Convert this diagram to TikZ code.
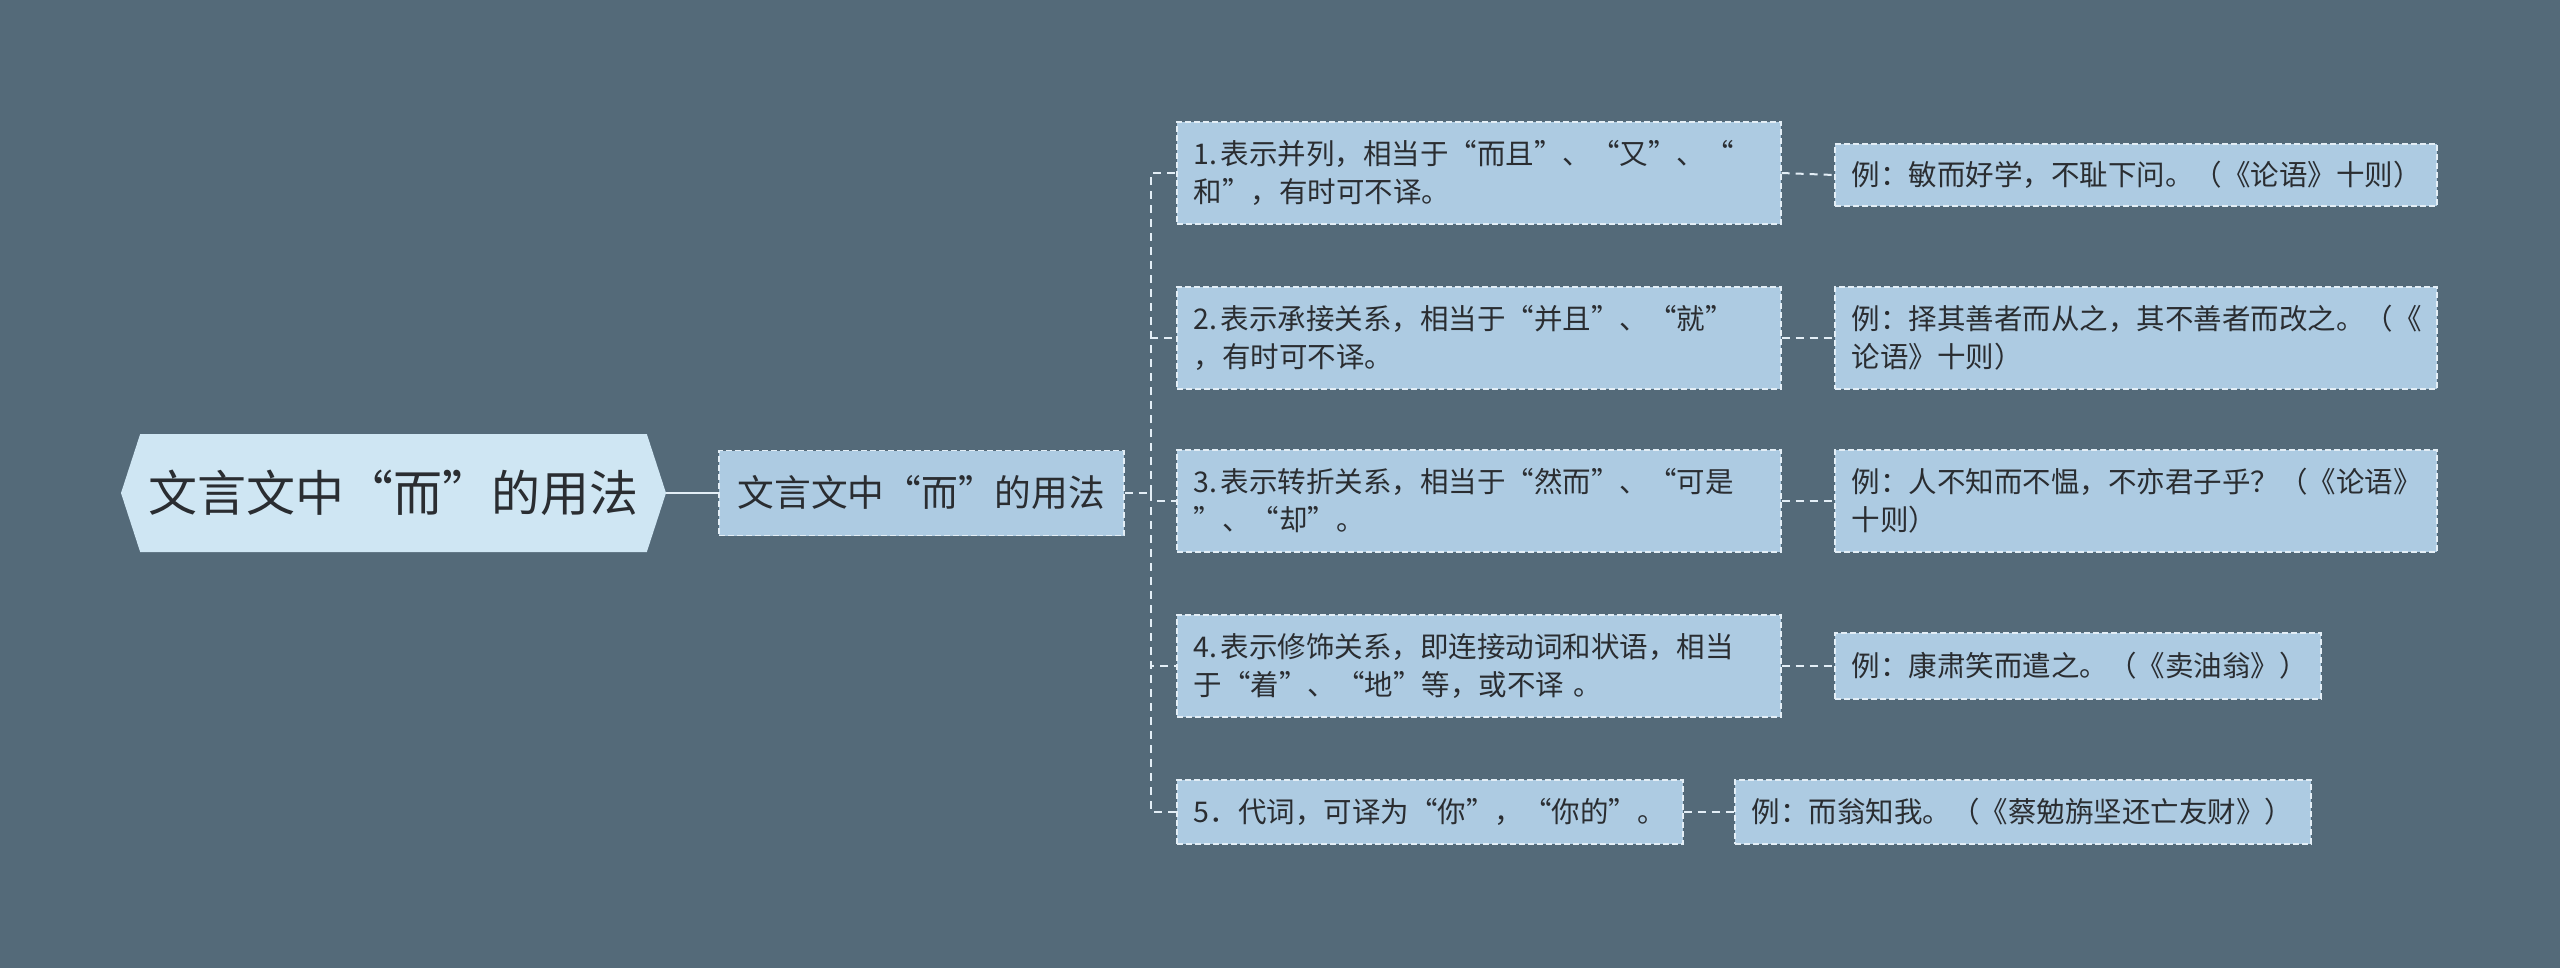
\documentclass[tikz,border=0pt]{standalone}
\usepackage{fontspec}
\setmainfont{Noto Sans CJK SC}
\usetikzlibrary{shapes.symbols}
\definecolor{bgslate}{HTML}{546A79}
\definecolor{boxblue}{HTML}{ADCBE2}
\definecolor{rootblue}{HTML}{CFE6F3}
\definecolor{dashline}{HTML}{E3EEF6}
\definecolor{inkgray}{HTML}{2A2D31}

\begin{document}
\begin{tikzpicture}[x=1pt, y=-1pt,
    topic/.style={draw=dashline, line width=1.6pt, dash pattern=on 6pt off 3pt,
      fill=boxblue, text=inkgray, align=left, inner xsep=17pt, inner ysep=0pt,
      anchor=west, font=\fontsize{28.5pt}{38pt}\selectfont},
    link/.style={draw=dashline, line width=2pt, dash pattern=on 8pt off 6pt}]
    % Background
    \fill[bgslate] (0,0) rectangle (2560,968);
    % Root and first level
    \node[shape=signal, signal to=west and east, signal pointer angle=144,
      minimum width=545pt, minimum height=118pt, inner sep=0pt, fill=rootblue,
      text=inkgray, font=\fontsize{49pt}{56pt}\selectfont] (root) at (393.5,493) {文言文中“而”的用法};
    \node[topic, align=center, minimum width=405pt, minimum height=85pt, inner xsep=0pt,
      font=\fontsize{36.7pt}{44pt}\selectfont] (usage) at (718,493) {文言文中“而”的用法};
    \draw[dashline, line width=2pt] (root.east) -- (usage.west);
    % Meanings
    \node[topic, text width=570pt, minimum height=102pt] (m1) at (1176,173)
      {1.\hspace{0.12em}表示并列，相当于“而且”、“又”、“\\和”，有时可不译。};
    \node[topic, text width=570pt, minimum height=102pt] (m2) at (1176,338)
      {2.\hspace{0.12em}表示承接关系，相当于“并且”、“就”\\，有时可不译。};
    \node[topic, text width=570pt, minimum height=102pt] (m3) at (1176,501)
      {3.\hspace{0.12em}表示转折关系，相当于“然而”、“可是\\”、“却”。};
    \node[topic, text width=570pt, minimum height=102pt] (m4) at (1176,666)
      {4.\hspace{0.12em}表示修饰关系，即连接动词和状语，相当\\于“着”、“地”等，或不译 。};
    \node[topic, text width=472pt, minimum height=64pt] (m5) at (1176,812)
      {5．代词，可译为“你”，“你的”。};
    % Examples
    \node[topic, text width=568pt, minimum height=62pt] (x1) at (1834,175)
      {例：敏而好学，不耻下问。（《论语》十则）};
    \node[topic, text width=568pt, minimum height=102pt] (x2) at (1834,338)
      {例：择其善者而从之，其不善者而改之。（《\\论语》十则）};
    \node[topic, text width=568pt, minimum height=102pt] (x3) at (1834,501)
      {例：人不知而不愠，不亦君子乎？（《论语》\\十则）};
    \node[topic, text width=452pt, minimum height=66pt] (x4) at (1834,666)
      {例：康肃笑而遣之。（《卖油翁》）};
    \node[topic, text width=542pt, minimum height=64pt] (x5) at (1734,812)
      {例：而翁知我。（《蔡勉旃坚还亡友财》）};
    % Connectors
    \coordinate (bus) at (1151,493);
    \draw[link] (usage.east) -- (bus);
    \foreach \m in {m1,m2,m3,m4,m5} \draw[link] (bus) |- (\m.west);
    \foreach \i in {1,...,5} \draw[link] (m\i.east) -- (x\i.west);
\end{tikzpicture}
\end{document}
